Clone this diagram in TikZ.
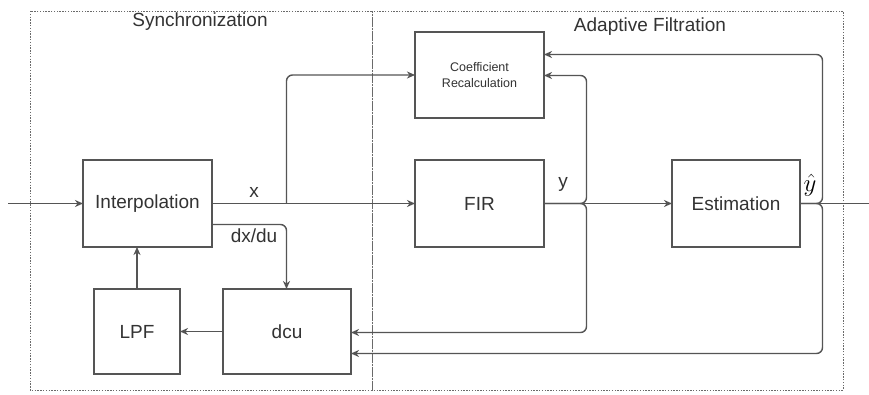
\documentclass[tikz,border=0pt]{standalone}
\usepackage{fontspec}
\setmainfont{Liberation Sans}
\usetikzlibrary{arrows.meta}
\definecolor{linec}{HTML}{555555}
\definecolor{framec}{HTML}{6a6a6a}
\definecolor{textc}{HTML}{333333}
\begin{document}
\begin{tikzpicture}[x=1pt,y=-1pt,
  block/.style={draw=linec, line width=1.4pt, fill=white, inner sep=0pt, outer sep=0pt,
    font=\fontsize{19}{21}\selectfont, text=textc, align=center},
  wire/.style={draw=linec, line width=1.4pt, rounded corners=6pt,
    -{Stealth[length=8pt,width=7pt,inset=2.5pt]}},
  plain/.style={draw=linec, line width=1.4pt, rounded corners=6pt},
  frame/.style={draw=framec, line width=0.9pt, dash pattern=on 1.4pt off 1.4pt},
  lbl/.style={font=\fontsize{19}{21}\selectfont, text=textc, inner sep=0pt}]
\useasboundingbox (0,0) rectangle (869,395);
\fill[white] (0,0) rectangle (869,395);

% group frames
\draw[frame] (30,11) rectangle (372,390);
\draw[frame] (372,11) rectangle (843,390);
\node[lbl] (tsync) at (200,22) {Synchronization};
\node[lbl] (tadapt) at (650,27) {Adaptive Filtration};

% blocks
\node[block, minimum width=129pt, minimum height=87pt] (interp) at (147.5,203.5) {Interpolation};
\node[block, minimum width=129pt, minimum height=86pt, font=\fontsize{12.5}{16}\selectfont] (coef) at (479.5,75) {Coefficient\\Recalculation};
\node[block, minimum width=129pt, minimum height=87pt] (fir) at (479.5,203.5) {FIR};
\node[block, minimum width=128pt, minimum height=87pt] (est) at (736,203.5) {Estimation};
\node[block, minimum width=128pt, minimum height=85pt] (dcu) at (287,331.5) {dcu};
\node[block, minimum width=86pt, minimum height=85pt] (lpf) at (137,331.5) {LPF};

% signal endpoints and bends
\coordinate (in) at (8,203.5);
\coordinate (out) at (869,203.5);
\coordinate (xb) at (286.5,203.5);
\coordinate (yb) at (586.5,203.5);
\coordinate (hb) at (822.5,203.5);

% main signal path
\draw[wire] (in) -- (interp.west |- in);
\draw[wire] (interp.east |- in) -- (fir.west |- in);
\draw[wire] (fir.east |- in) -- (est.west |- in);
\draw[plain] (est.east |- in) -- (out);

% x to coefficient recalculation
\draw[wire] (xb) -- (286.5,75) -- (coef.west);
% derivative to dcu
\draw[wire] (interp.east |- 0,224.5) -- (286.5,224.5) -- (286.5,289);
% dcu -> LPF -> Interpolation
\draw[wire] (dcu.west) -- (lpf.east);
\draw[wire] (lpf.north) -- (interp.south -| lpf.north);

% FIR output feedback
\draw[wire] (fir.east |- yb) -- (yb) -- (586.5,75.5) -- (coef.east |- 0,75.5);
\draw[wire] (fir.east |- yb) -- (yb) -- (586.5,332.5) -- (dcu.east |- 0,332.5);
% estimate feedback
\draw[wire] (est.east |- hb) -- (hb) -- (822.5,54.5) -- (coef.east |- 0,54.5);
\draw[wire] (est.east |- hb) -- (hb) -- (822.5,353.5) -- (dcu.east |- 0,353.5);

% signal labels
\node[lbl] (lx) at (254,192) {x};
\node[lbl] (ldx) at (254,236) {dx/du};
\node[lbl] (ly) at (563,184) {y};
\node[lbl, text=black, font=\fontsize{23}{25}\selectfont] (lyh) at (810,185) {$\hat{y}$};
\end{tikzpicture}
\end{document}
